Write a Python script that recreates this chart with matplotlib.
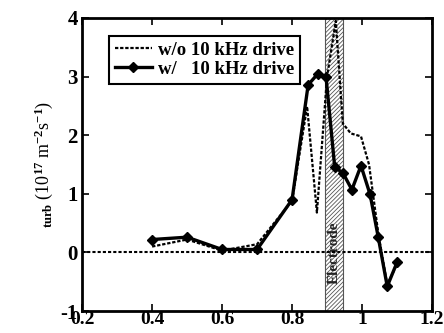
import matplotlib.pyplot as plt
import matplotlib as mpl

mpl.rcParams['font.family'] = 'Liberation Serif'
mpl.rcParams['font.weight'] = 'bold'
mpl.rcParams['mathtext.fontset'] = 'custom'
mpl.rcParams['mathtext.rm'] = 'Liberation Serif:bold'
mpl.rcParams['mathtext.it'] = 'Liberation Serif:bold'
mpl.rcParams['mathtext.bf'] = 'Liberation Serif:bold'
mpl.rcParams['axes.unicode_minus'] = False
mpl.rcParams['hatch.color'] = '#555555'
mpl.rcParams['hatch.linewidth'] = 0.6

# w/o 10 kHz drive (dotted)
x_wo = [0.4, 0.5, 0.6, 0.7, 0.8, 0.843, 0.871, 0.9, 0.925, 0.945, 0.968, 0.997, 1.02, 1.047, 1.072, 1.1]
y_wo = [0.10, 0.22, 0.03, 0.14, 0.88, 2.49, 0.68, 3.0, 3.95, 2.2, 2.03, 1.98, 1.5, 0.3, -0.55, -0.2]

# w/ 10 kHz drive (solid with diamonds)
x_w = [0.4, 0.5, 0.6, 0.7, 0.8, 0.846, 0.874, 0.897, 0.922, 0.945, 0.971, 0.997, 1.023, 1.046, 1.072, 1.1]
y_w = [0.22, 0.26, 0.05, 0.05, 0.9, 2.86, 3.05, 3.0, 1.45, 1.36, 1.07, 1.48, 0.99, 0.27, -0.58, -0.17]

electrode = (0.895, 0.945)

fig = plt.figure(figsize=(4.44, 3.33), dpi=100)
ax = fig.add_axes([0.185, 0.066, 0.788, 0.880])

ax.axvspan(electrode[0], electrode[1], facecolor='white', edgecolor='#555555',
           hatch='////////', linewidth=0.8, zorder=1)
ax.text(sum(electrode) / 2, 0.0, 'Electrode', rotation=90, ha='center', va='center',
        fontsize=11, color='#222222', zorder=2)
ax.axhline(0, color='black', linestyle=(0, (1.5, 1)), linewidth=1.5, zorder=2)

ax.plot(x_wo, y_wo, color='black', linestyle=(0, (1.5, 0.8)), linewidth=1.6,
        label='w/o 10 kHz drive', zorder=3)
ax.plot(x_w, y_w, color='black', linewidth=2.4, marker='D', markersize=5,
        label='w/   10 kHz drive', zorder=4)

ax.set_xlim(0.2, 1.2)
ax.set_ylim(-1, 4)
ax.set_xticks([0.2, 0.4, 0.6, 0.8, 1.0, 1.2])
ax.set_xticklabels(['0.2', '0.4', '0.6', '0.8', '1', '1.2'])
ax.set_yticks([-1, 0, 1, 2, 3, 4])
ax.tick_params(direction='in', top=True, right=True, labelsize=15, width=1.2, length=5)
ax.tick_params(axis='x', labelsize=14, pad=0)
ax.tick_params(axis='y', pad=3)
for s in ax.spines.values():
    s.set_linewidth(2)

ax.set_ylabel(r'$_{\rm turb}$ (10$^{17}$ m$^{-2}$s$^{-1}$)', fontsize=13, labelpad=4)

leg = ax.legend(loc='upper left', bbox_to_anchor=(0.05, 0.97), fontsize=13.5, frameon=True,
                fancybox=False, edgecolor='black', handlelength=2.0, borderpad=0.3,
                labelspacing=0.1, handletextpad=0.3, framealpha=1)
leg.get_frame().set_linewidth(1.5)

fig.savefig('out.png', dpi=100)
